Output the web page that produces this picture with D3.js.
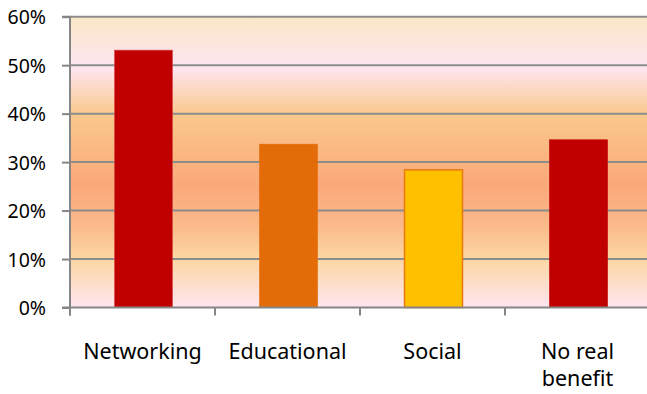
<!DOCTYPE html>
<html>
<head>
<meta charset="utf-8">
<script src="https://cdn.jsdelivr.net/npm/d3@7"></script>
<style>
  html, body { margin: 0; padding: 0; background: #fff; }
  svg { display: block; }
</style>
</head>
<body>
<svg id="chart" width="647" height="394"></svg>
<script>
const categories = ["Networking", "Educational", "Social", "No real benefit"];
const values = [0.531, 0.337, 0.284, 0.346];
const barColors = ["#C00000", "#E36C09", "#FFC000", "#C00000"];
const barStrokes = ["#D84848", "#E36C09", "#E87A10", "#C00000"];
const yTicks = [0, 0.1, 0.2, 0.3, 0.4, 0.5, 0.6];
const labelLines = [["Networking"], ["Educational"], ["Social"], ["No real", "benefit"]];

(function () {
const svg = d3.select("#chart");
const pLeft = 70, pRight = 650, pTop = 16.7, pBottom = 307.5;

const x = d3.scaleBand().domain(categories).range([pLeft, pRight]).paddingInner(0).paddingOuter(0);
const y = d3.scaleLinear().domain([0, 0.6]).range([pBottom, pTop]);

// Background gradient
const defs = svg.append("defs");
const grad = defs.append("linearGradient").attr("id", "bg").attr("x1", 0).attr("y1", 0).attr("x2", 0).attr("y2", 1);
[
  [0, "#FCE6C6"], [0.15, "#FDE6EC"], [0.175, "#FEE5F2"], [0.34, "#FAC88A"],
  [0.58, "#FBA87A"], [0.72, "#FBBA8A"], [0.83, "#FCD6A2"], [1, "#FEE5F0"]
].forEach(([o, c]) => grad.append("stop").attr("offset", o).attr("stop-color", c));

svg.append("rect")
  .attr("x", pLeft).attr("y", pTop)
  .attr("width", pRight - pLeft).attr("height", pBottom - pTop)
  .attr("fill", "url(#bg)");

// Gridlines
svg.append("g").selectAll("line").data(yTicks.filter(d => d > 0)).join("line")
  .attr("x1", pLeft).attr("x2", pRight)
  .attr("y1", d => y(d)).attr("y2", d => y(d))
  .attr("stroke", "#8C8C8C").attr("stroke-width", 2);

// Bars
svg.append("g").selectAll("rect").data(categories).join("rect")
  .attr("x", d => x(d) + x.bandwidth() * 0.3 + 1)
  .attr("width", x.bandwidth() * 0.4)
  .attr("y", (d, i) => y(values[i]))
  .attr("height", (d, i) => pBottom - y(values[i]))
  .attr("fill", (d, i) => barColors[i])
  .attr("stroke", (d, i) => barStrokes[i])
  .attr("stroke-width", (d, i) => i === 2 ? 1.5 : 0.6);

// Y axis
const yAxis = d3.axisLeft(y).tickValues(yTicks).tickFormat(d3.format(".0%")).tickSize(8).tickPadding(16);
const gy = svg.append("g").attr("transform", `translate(${pLeft},0)`).call(yAxis);
gy.select(".domain").attr("stroke", "#868686").attr("stroke-width", 2).attr("d", `M-8,${pTop}H0V${pBottom + 8}`);
gy.selectAll(".tick line").attr("stroke", "#868686").attr("stroke-width", 2);
gy.selectAll(".tick text")
  .attr("font-family", "'Noto Sans', sans-serif").attr("font-size", "19.5px")
  .attr("fill", "#000").attr("dy", "0.36em");

// X axis
const boundaries = categories.map(c => x(c));
const gx = svg.append("g");
gx.append("line").attr("x1", pLeft - 8).attr("x2", pRight).attr("y1", pBottom).attr("y2", pBottom)
  .attr("stroke", "#868686").attr("stroke-width", 2);
gx.selectAll("line.tk").data(boundaries).join("line").attr("class", "tk")
  .attr("x1", d => d).attr("x2", d => d).attr("y1", pBottom).attr("y2", pBottom + 8)
  .attr("stroke", "#868686").attr("stroke-width", 2);

const labels = svg.append("g").selectAll("text").data(categories).join("text")
  .attr("x", d => x(d) + x.bandwidth() / 2)
  .attr("y", 359)
  .attr("text-anchor", "middle")
  .attr("font-family", "'Noto Sans', sans-serif").attr("font-size", "21.5px")
  .attr("fill", "#000");
labels.each(function(d, i) {
  const t = d3.select(this);
  labelLines[i].forEach((ln, j) => {
    t.append("tspan").attr("x", x(d) + x.bandwidth() / 2).attr("dy", j === 0 ? 0 : 27).text(ln);
  });
});
})();
</script>
</body>
</html>
